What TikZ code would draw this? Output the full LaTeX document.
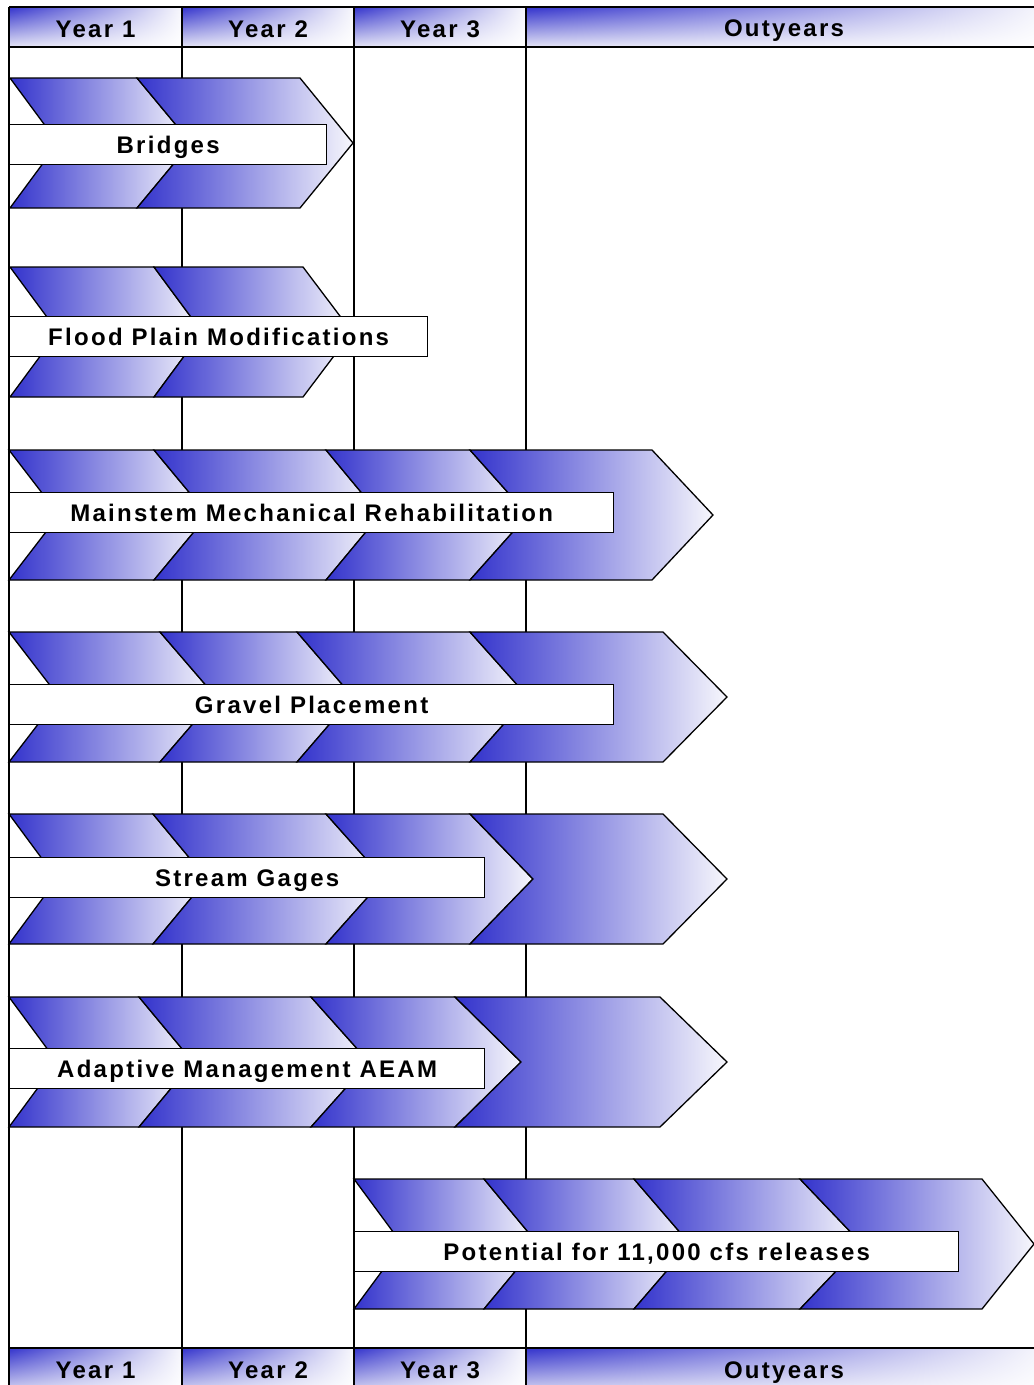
\documentclass[tikz,border=0pt]{standalone}
\usepackage{fontspec}
\usetikzlibrary{shadings}
\setmainfont{Liberation Sans}
\newfontfamily\tagfont{Liberation Sans}[LetterSpace=9.5]
\definecolor{chevblue}{RGB}{51,51,204}
\definecolor{chevpale}{RGB}{247,247,252}
\definecolor{hdrpale}{RGB}{228,228,245}
\newcommand{\chev}[5]{%
  \path[chevron] (#1,#5) -- (#3,#5) -- ({#3+#4},{#5+65}) -- (#3,{#5+130})
    -- (#1,{#5+130}) -- ({#1+#2},{#5+65}) -- cycle;}
\begin{document}
\begin{tikzpicture}[
  x=1pt, y=-1pt,
  grid line/.style={draw, line width=1.6pt},
  hdr/.style={upper left=chevblue, upper right=chevpale, lower left=hdrpale, lower right=white},
  chevron/.style={draw=black, line width=1.3pt, line join=miter, left color=chevblue, right color=chevpale},
  tagbox/.style={draw=black, fill=white, line width=1.3pt, anchor=north west, minimum height=40pt, inner sep=0pt, text height=17pt, text depth=0pt, font=\tagfont\bfseries\fontsize{24}{28}\selectfont},
  yeartag/.style={inner sep=0pt, anchor=base, font=\tagfont\bfseries\fontsize{24}{28}\selectfont}
]
  \clip (0,0) rectangle (1034,1385);
  \fill[white] (0,0) rectangle (1034,1385);

  \foreach \xa/\xb in {9/182, 182/354, 354/526, 526/1045} {
    \shade[hdr] (\xa,7) rectangle (\xb,47);
    \shade[hdr] (\xa,1348) rectangle (\xb,1395);
  }
  \draw[grid line] (9,7) -- (1045,7);
  \draw[grid line] (9,47) -- (1045,47);
  \draw[grid line] (9,1348) -- (1045,1348);
  \foreach \x in {9, 182, 354, 526}
    \draw[grid line] (\x,7) -- (\x,1395);

  \node[yeartag] (hy1) at (95.5,37) {Year 1};
  \node[yeartag] (hy2) at (268,37) {Year 2};
  \node[yeartag] (hy3) at (440,37) {Year 3};
  \node[yeartag] (hout) at (784,36.5) {Outyears};
  \node[yeartag] (fy1) at (95.5,1378) {Year 1};
  \node[yeartag] (fy2) at (268,1378) {Year 2};
  \node[yeartag] (fy3) at (440,1378) {Year 3};
  \node[yeartag] (fout) at (784,1378) {Outyears};

  \foreach \xa/\da/\xb/\db in {10/48/137/54, 137/54/300/53}
    {\chev{\xa}{\da}{\xb}{\db}{78}}
  \foreach \xa/\da/\xb/\db in {10/48/154/48, 154/48/303/49}
    {\chev{\xa}{\da}{\xb}{\db}{267}}
  \foreach \xa/\da/\xb/\db in {9/50/154/54, 154/54/326/54, 326/54/470/58, 470/58/652/61}
    {\chev{\xa}{\da}{\xb}{\db}{450}}
  \foreach \xa/\da/\xb/\db in {9/50/160/56, 160/56/297/56, 297/56/470/58, 470/58/663/64}
    {\chev{\xa}{\da}{\xb}{\db}{632}}
  \foreach \xa/\da/\xb/\db in {9/48/153/54, 153/54/326/58, 326/58/470/63, 470/63/663/64}
    {\chev{\xa}{\da}{\xb}{\db}{814}}
  \foreach \xa/\da/\xb/\db in {9/48/139/54, 139/54/311/58, 311/58/455/66, 455/66/660/67}
    {\chev{\xa}{\da}{\xb}{\db}{997}}
  \foreach \xa/\da/\xb/\db in {354/48/484/54, 484/54/634/56, 634/56/800/62, 800/62/982/52}
    {\chev{\xa}{\da}{\xb}{\db}{1179}}

  \node[tagbox, minimum width=317pt] (bridges) at (9,124) {Bridges};
  \node[tagbox, minimum width=418pt] (flood) at (9,316) {Flood Plain Modifications};
  \node[tagbox, minimum width=604pt] (mainstem) at (9,492) {Mainstem Mechanical Rehabilitation};
  \node[tagbox, minimum width=604pt] (gravel) at (9,684) {Gravel Placement};
  \node[tagbox, minimum width=475pt] (gages) at (9,857) {Stream Gages};
  \node[tagbox, minimum width=475pt] (aeam) at (9,1048) {Adaptive Management AEAM};
  \node[tagbox, minimum width=604pt] (releases) at (354,1231) {Potential for 11,000 cfs releases};
\end{tikzpicture}
\end{document}
